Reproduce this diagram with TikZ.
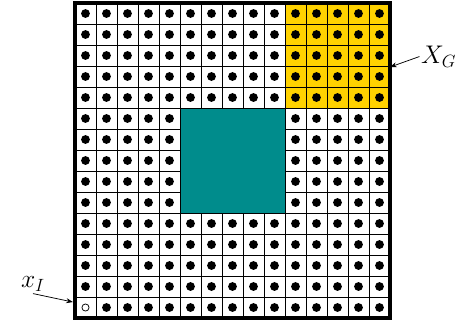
\documentclass[tikz,border=0pt]{standalone}
\usepackage{amsmath,amssymb}
\usepackage{tikz}
\usetikzlibrary{positioning,arrows.meta}
\definecolor{goalyellow}{RGB}{255,210,0}
\definecolor{obsteal}{RGB}{0,140,140}

\begin{document}
\begin{tikzpicture}[
  x=0.5cm,y=0.5cm,
  cell/.style={draw,line width=0.5pt},
  goal/.style={fill=goalyellow},
  obstacle/.style={fill=obsteal,draw,line width=0.6pt},
  state/.style={circle,fill=black,inner sep=0pt,minimum size=2.1mm},
  start/.style={circle,draw,fill=white,inner sep=0pt,minimum size=1.7mm,line width=0.5pt},
  lbl/.style={font=\LARGE,inner sep=1pt},
  pointer/.style={-{Stealth[length=1.6mm,width=1.2mm]},line width=0.5pt}
]
\useasboundingbox (-3.571,-0.238) rectangle (18.286,15.143);
% goal region and grid
\fill[goal] (10,10) rectangle (15,15);
\draw[cell] (0,0) grid[step=0.5cm] (15,15);
\foreach \i in {0,...,14}{
  \foreach \j in {0,...,14}{
    \ifnum\i=0 \ifnum\j=0 \else
      \node[state] at (\i+0.5,\j+0.5) {};
    \fi\else
      \node[state] at (\i+0.5,\j+0.5) {};
    \fi
  }
}
% obstacle
\draw[obstacle] (5,5) rectangle (10,10);
\draw[line width=2.3pt] (0,0) rectangle (15,15);
% initial state
\node[start] (xI) at (0.5,0.5) {};
\coordinate (xIend) at (-0.1,0.76);
\node[lbl] (xIlab) at (-2.0,1.6) {$x_I$};
\draw[pointer] (xIlab.south) -- (xIend);
% goal label
\coordinate (XGend) at (15.0,11.95);
\node[lbl,anchor=west] (XGlab) at (16.4,12.45) {$X_G$};
\draw[pointer] (XGlab.west) -- (XGend);
\end{tikzpicture}
\end{document}
